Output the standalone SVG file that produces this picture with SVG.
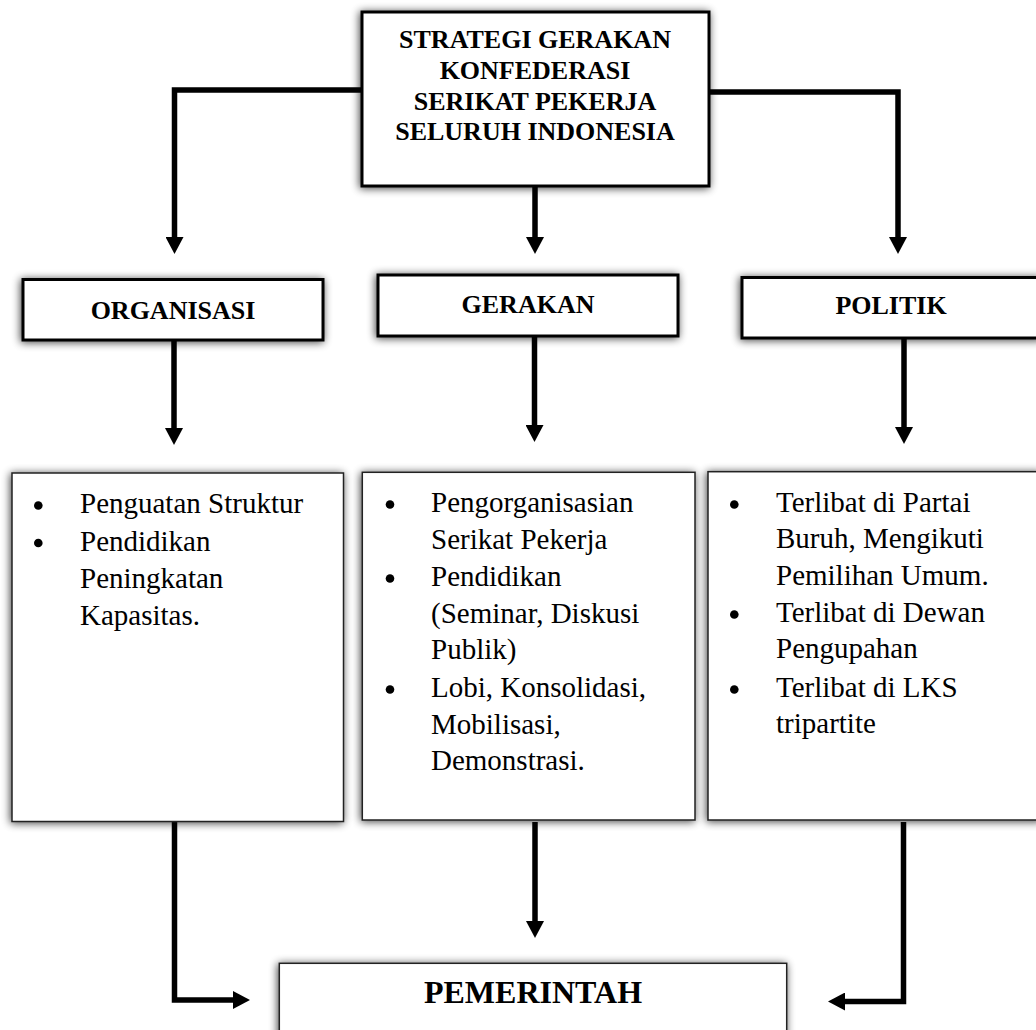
<svg xmlns="http://www.w3.org/2000/svg" width="1036" height="1030" viewBox="0 0 1036 1030">
  <style>
    .hbox { fill: #ffffff; stroke: #000000; stroke-width: 3; filter: url(#sh); }
    .cbox { fill: #ffffff; stroke: #222222; stroke-width: 1.5; filter: url(#sh); }
    .head { font-family: "Liberation Serif", "Times New Roman", serif; font-weight: bold; font-size: 26px; fill: #000000; text-anchor: middle; }
    .big { font-size: 32px; }
    .body { font-family: "Liberation Serif", "Times New Roman", serif; font-size: 29px; fill: #000000; }
    .bul { fill: #000000; }
    .conn { fill: none; stroke: #000000; stroke-width: 5.5; stroke-linejoin: miter; stroke-linecap: butt; marker-end: url(#ah); }
  </style>
  <defs>
    <filter id="sh" x="-20%" y="-50%" width="140%" height="200%">
      <feGaussianBlur in="SourceAlpha" stdDeviation="4"/>
      <feOffset dx="-1" dy="1" result="b"/>
      <feComponentTransfer>
        <feFuncA type="linear" slope="0.75"/>
      </feComponentTransfer>
      <feMerge>
        <feMergeNode/>
        <feMergeNode in="SourceGraphic"/>
      </feMerge>
    </filter>
    <marker id="ah" viewBox="0 0 17 18" refX="0" refY="9" markerWidth="17" markerHeight="18" markerUnits="userSpaceOnUse" orient="auto">
      <path d="M0,0 L17,9 L0,18 Z" fill="#000000"/>
    </marker>
  </defs>

  <rect width="1036" height="1030" fill="#ffffff"/>

  <g id="connectors">
    <path class="conn" d="M362,90 H174.5 V237"/>
    <path class="conn" d="M535,186 V237"/>
    <path class="conn" d="M709,92 H898 V237"/>
    <path class="conn" d="M174,340 V428"/>
    <path class="conn" d="M534.5,336 V425"/>
    <path class="conn" d="M904,338 V427"/>
    <path class="conn" d="M174.5,822 V1000 H233"/>
    <path class="conn" d="M535,822 V921"/>
    <path class="conn" d="M903.5,822 V1001.5 H845"/>
  </g>

  <g id="strategi">
    <rect class="hbox" x="362" y="12" width="347" height="174"/>
    <text class="head" x="535" y="48">STRATEGI GERAKAN</text>
    <text class="head" x="535" y="79">KONFEDERASI</text>
    <text class="head" x="535" y="110">SERIKAT PEKERJA</text>
    <text class="head" x="535" y="139.5">SELURUH INDONESIA</text>
  </g>

  <g id="organisasi">
    <rect class="hbox" x="23" y="279.5" width="300" height="60.5"/>
    <text class="head" x="173" y="319">ORGANISASI</text>
  </g>

  <g id="gerakan">
    <rect class="hbox" x="378" y="275" width="300" height="61"/>
    <text class="head" x="528" y="312.5">GERAKAN</text>
  </g>

  <g id="politik">
    <rect class="hbox" x="742" y="277.5" width="300" height="60.5"/>
    <text class="head" x="891" y="314">POLITIK</text>
  </g>

  <g id="isi-organisasi">
    <rect class="cbox" x="12" y="473" width="331.5" height="348.5"/>
    <circle class="bul" cx="38.3" cy="505.5" r="4.3"/>
    <circle class="bul" cx="38.3" cy="543" r="4.3"/>
    <text class="body" x="80" y="513">Penguatan Struktur</text>
    <text class="body" x="80" y="550.5">Pendidikan</text>
    <text class="body" x="80" y="587.5">Peningkatan</text>
    <text class="body" x="80" y="624.5">Kapasitas.</text>
  </g>

  <g id="isi-gerakan">
    <rect class="cbox" x="362.3" y="472.3" width="332.7" height="347.7"/>
    <circle class="bul" cx="390" cy="504.5" r="4.3"/>
    <circle class="bul" cx="390" cy="578.5" r="4.3"/>
    <circle class="bul" cx="390" cy="689.5" r="4.3"/>
    <text class="body" x="431" y="511.5">Pengorganisasian</text>
    <text class="body" x="431" y="548.5">Serikat Pekerja</text>
    <text class="body" x="431" y="585.5">Pendidikan</text>
    <text class="body" x="431" y="622.5">(Seminar, Diskusi</text>
    <text class="body" x="431" y="659">Publik)</text>
    <text class="body" x="431" y="696.5">Lobi, Konsolidasi,</text>
    <text class="body" x="431" y="733.5">Mobilisasi,</text>
    <text class="body" x="431" y="770">Demonstrasi.</text>
  </g>

  <g id="isi-politik">
    <rect class="cbox" x="708" y="471.7" width="334" height="348.3"/>
    <circle class="bul" cx="734.3" cy="504.5" r="4.3"/>
    <circle class="bul" cx="734.3" cy="614.5" r="4.3"/>
    <circle class="bul" cx="734.3" cy="689.5" r="4.3"/>
    <text class="body" x="776" y="511.5">Terlibat di Partai</text>
    <text class="body" x="776" y="548.3">Buruh, Mengikuti</text>
    <text class="body" x="776" y="585">Pemilihan Umum.</text>
    <text class="body" x="776" y="621.7">Terlibat di Dewan</text>
    <text class="body" x="776" y="658.3">Pengupahan</text>
    <text class="body" x="776" y="696.5">Terlibat di LKS</text>
    <text class="body" x="776" y="733">tripartite</text>
  </g>

  <g id="pemerintah">
    <rect class="cbox" x="279.3" y="963.3" width="507.4" height="80"/>
    <text class="head big" x="533" y="1002.7">PEMERINTAH</text>
  </g>
</svg>
